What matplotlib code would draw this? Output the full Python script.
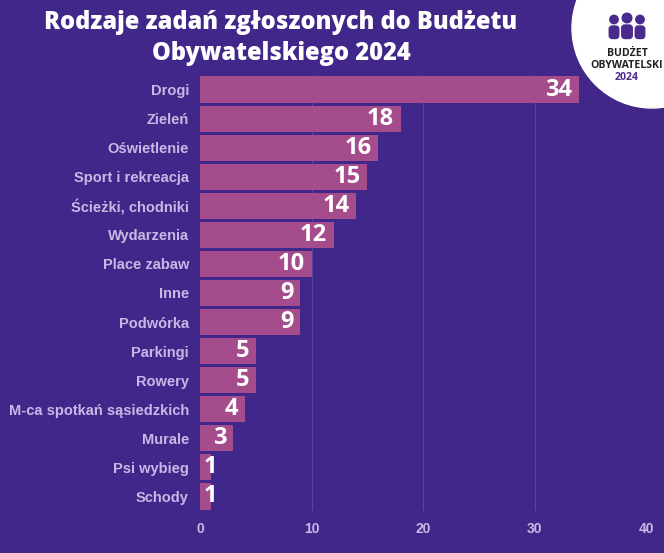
import matplotlib
matplotlib.use("Agg")
import matplotlib.pyplot as plt
from matplotlib.patches import Circle, FancyBboxPatch

categories = ["Drogi", "Zieleń", "Oświetlenie", "Sport i rekreacja", "Ścieżki, chodniki",
              "Wydarzenia", "Place zabaw", "Inne", "Podwórka", "Parkingi", "Rowery",
              "M-ca spotkań sąsiedzkich", "Murale", "Psi wybieg", "Schody"]
values = [34, 18, 16, 15, 14, 12, 10, 9, 9, 5, 5, 4, 3, 1, 1]
xticks = [0, 10, 20, 30, 40]
title = "Rodzaje zadań zgłoszonych do Budżetu\nObywatelskiego 2024"

BG = "#42278A"
BAR = "#A54D8C"
LBL = "#C9B8E6"
GRID = "#5B45A3"

W, H = 664, 553
fig = plt.figure(figsize=(W / 100, H / 100), dpi=100, facecolor=BG)
ax = fig.add_axes([200 / W, 1 - 511 / H, 446 / W, 436 / H], facecolor=BG)

y = list(range(len(categories)))
ax.barh(y, values, height=0.9, color=BAR, zorder=2)
ax.set_ylim(len(categories) - 0.5, -0.5)
ax.set_xlim(0, 40)
ax.set_yticks(y)
ax.set_yticklabels(categories, fontsize=10.5, fontweight="bold", color=LBL,
                   family=["Liberation Sans", "DejaVu Sans"])
ax.set_xticks(xticks)
ax.set_xticklabels([str(t) for t in xticks], fontsize=10, fontweight="bold", color=LBL,
                   family=["Liberation Sans", "DejaVu Sans"])
ax.tick_params(axis="both", length=0, pad=8)
for s in ax.spines.values():
    s.set_visible(False)
for t in xticks[1:]:
    ax.axvline(t, color=GRID, lw=0.8, zorder=1)

for yi, v in zip(y, values):
    if v < 2:
        ax.text(0.35, yi, str(v), ha="left", va="center", color="white",
                fontsize=17, fontweight="bold", family="Open Sans", zorder=3)
    else:
        ax.text(v - 0.6, yi, str(v), ha="right", va="center", color="white",
                fontsize=17, fontweight="bold", family="Open Sans", zorder=3)

fig.text(281 / W, 1 - 38 / H, title, ha="center", va="center", color="white",
         fontsize=17, fontweight="heavy", family="Open Sans", linespacing=1.35)

# logo
lax = fig.add_axes([0, 0, 1, 1], facecolor="none")
lax.set_xlim(0, W)
lax.set_ylim(H, 0)
lax.axis("off")
lax.add_patch(Circle((652, 28), 80, color="white", zorder=1))
ICON = "#4A2A8C"
for cx, r, bw, top, hy in [(614, 4.2, 9.5, 26, 19.5), (627, 4.8, 10.5, 25, 18), (640, 4.2, 9.5, 26, 19.5)]:
    lax.add_patch(Circle((cx, hy), r, color=ICON, zorder=2))
    lax.add_patch(FancyBboxPatch((cx - bw / 2, top), bw, 38.5 - top,
                                 boxstyle="round,pad=0,rounding_size=3",
                                 color=ICON, zorder=2))
lax.text(627, 53, "BUDŻET", ha="center", va="center", fontsize=7.6, fontweight="bold",
         color="#222222", family="Open Sans")
lax.text(627, 66, "OBYWATELSKI", ha="center", va="center", fontsize=7.6, fontweight="bold",
         color="#222222", family="Open Sans")
lax.text(627, 78, "2024", ha="center", va="center", fontsize=7.6, fontweight="bold",
         color="#4A2A8C", family="Open Sans")

fig.savefig("out.png", dpi=100, facecolor=BG)
